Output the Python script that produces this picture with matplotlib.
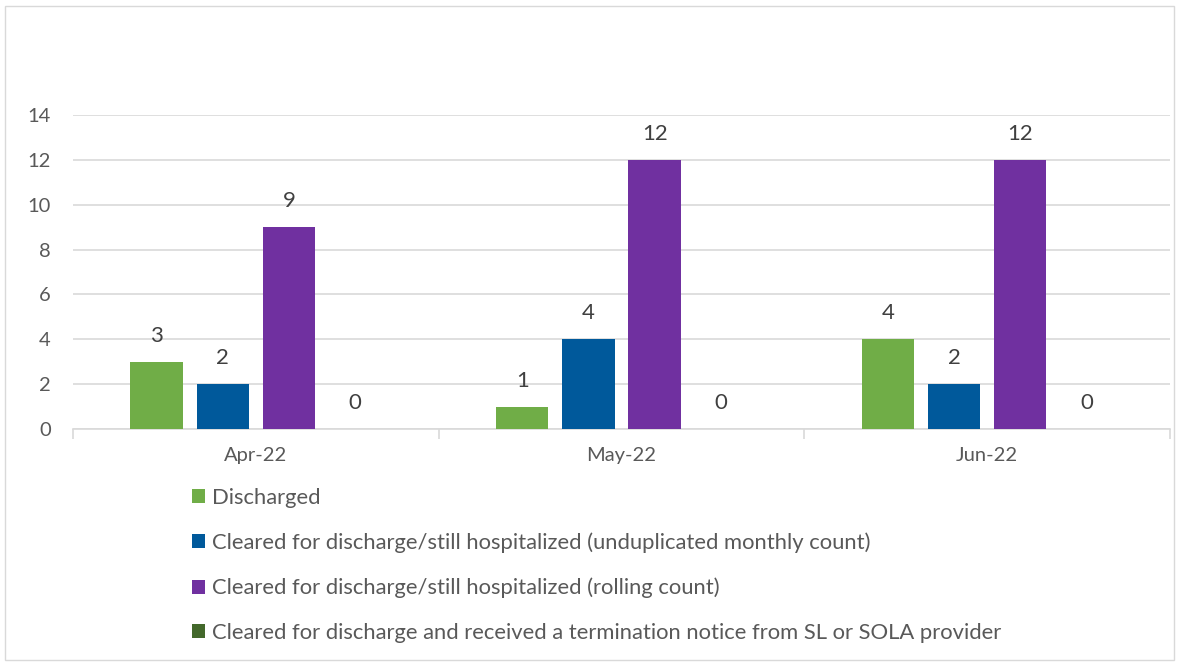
import matplotlib
matplotlib.use("Agg")
import matplotlib.pyplot as plt
import numpy as np
from matplotlib.patches import Rectangle, Patch

plt.rcParams['font.family'] = ['Lato', 'DejaVu Sans']

months = ["Apr-22", "May-22", "Jun-22"]
series_names = [
    "Discharged",
    "Cleared for discharge/still hospitalized (unduplicated monthly count)",
    "Cleared for discharge/still hospitalized (rolling count)",
    "Cleared for discharge and received a termination notice from SL or SOLA provider",
]
discharged = [3, 1, 4]
cleared_monthly = [2, 4, 2]
cleared_rolling = [9, 12, 12]
termination = [0, 0, 0]
colors = ["#70AD47", "#00599B", "#7030A0", "#43682B"]
yticks = [0, 2, 4, 6, 8, 10, 12, 14]

text_color = "#595959"
fig = plt.figure(figsize=(11.8, 6.63), dpi=100)
fig.patches.append(Rectangle((5/1180, 3/663), 1169/1180, 654/663, transform=fig.transFigure,
                             fill=False, edgecolor="#D9D9D9", linewidth=1))
ax = fig.add_axes([73/1180, 1-429/663, 1097/1180, 314/663])

data = [discharged, cleared_monthly, cleared_rolling, termination]
x = np.arange(len(months))
width = 0.143
step = 0.181
offsets = (np.arange(4) - 1.5) * step
for i, (vals, c) in enumerate(zip(data, colors)):
    bars = ax.bar(x + offsets[i], vals, width, color=c, zorder=3)
    for b, v in zip(bars, vals):
        ax.annotate(str(v), (b.get_x() + b.get_width()/2, v), xytext=(0, 16),
                    textcoords="offset pixels", ha="center", va="bottom",
                    fontsize=16, color="#404040")

ax.set_xlim(-0.5, 2.5)
ax.set_ylim(0, 14)
ax.set_yticks(yticks)
ax.yaxis.grid(True, color="#D9D9D9", linewidth=1.2, zorder=0)
ax.set_axisbelow(True)
for s in ["top", "right", "left"]:
    ax.spines[s].set_visible(False)
ax.spines["bottom"].set_color("#D9D9D9")
ax.spines["bottom"].set_linewidth(1.2)
ax.set_xticks(x)
ax.set_xticklabels(months)
ax.set_xticks([-0.5, 0.5, 1.5, 2.5], minor=True)
ax.tick_params(axis="x", which="major", length=0, pad=13, labelsize=14.5, labelcolor=text_color)
ax.tick_params(axis="x", which="minor", length=7, color="#D9D9D9", width=1.2)
ax.tick_params(axis="y", length=0, pad=16, labelsize=14.5, labelcolor=text_color)

handles = [Patch(facecolor=c, edgecolor="none") for c in colors]
leg = fig.legend(handles, series_names, loc="upper left", bbox_to_anchor=(192/1180, 1-488/663),
                 frameon=False, fontsize=15.8, labelcolor=text_color, handlelength=0.6,
                 handleheight=0.6, handletextpad=0.33, labelspacing=1.12,
                 borderpad=0, borderaxespad=0)

fig.savefig("out.png", dpi=100)
